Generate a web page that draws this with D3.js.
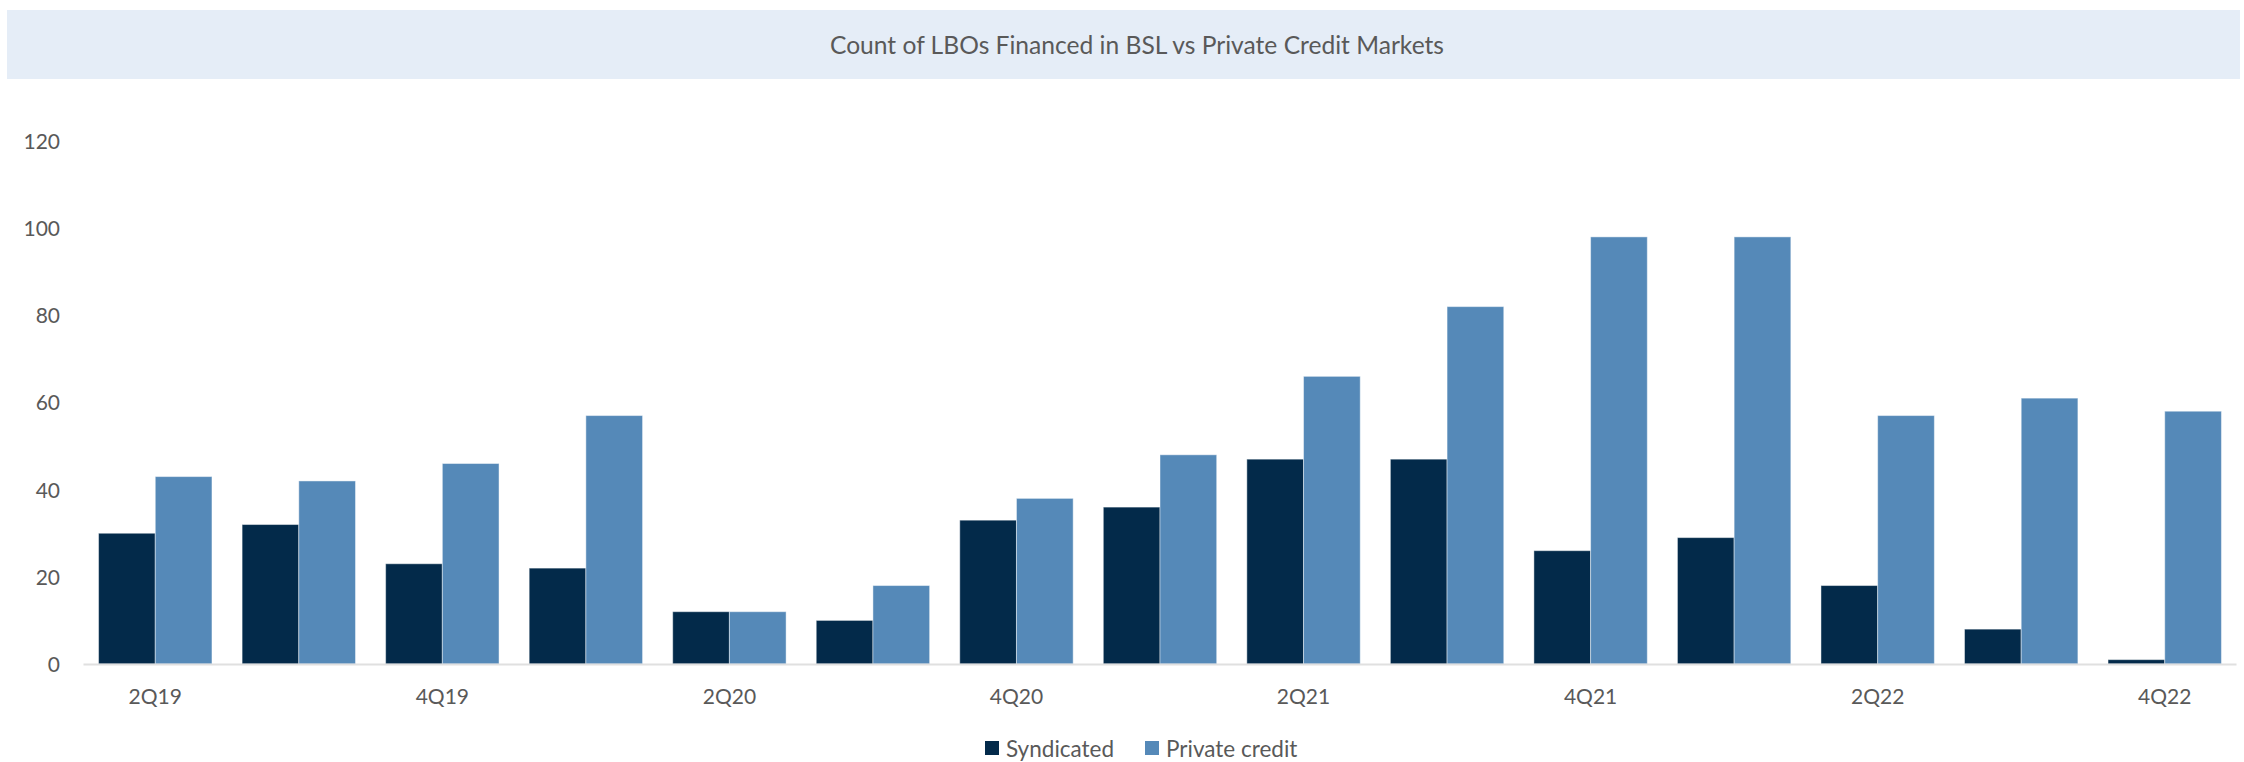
<!DOCTYPE html>
<html>
<head>
<meta charset="utf-8">
<script src="https://cdn.jsdelivr.net/npm/d3@7"></script>
<style>
  html, body { margin: 0; padding: 0; background: #ffffff; }
  svg { display: block; }
  text { font-family: "Lato", "Open Sans", sans-serif; fill: #595959; }
</style>
</head>
<body>
<svg id="chart" width="2244" height="762"></svg>
<script>
// Quarterly LBO counts by financing market
const quarters = ["2Q19","3Q19","4Q19","1Q20","2Q20","3Q20","4Q20","1Q21","2Q21","3Q21","4Q21","1Q22","2Q22","3Q22","4Q22"];
const syndicated = [30, 32, 23, 22, 12, 10, 33, 36, 47, 47, 26, 29, 18, 8, 1];
const privateCredit = [43, 42, 46, 57, 12, 18, 38, 48, 66, 82, 98, 98, 57, 61, 58];
const seriesNames = ["Syndicated", "Private credit"];
const seriesColors = ["#032a4a", "#5589b8"];
const yTicks = [0, 20, 40, 60, 80, 100, 120];
const xTickLabels = ["2Q19","4Q19","2Q20","4Q20","2Q21","4Q21","2Q22","4Q22"];
const title = "Count of LBOs Financed in BSL vs Private Credit Markets";

const svg = d3.select("#chart");
const plot = { left: 83.5, right: 2236.5, top: 141, bottom: 664 };

// Title banner
svg.append("rect")
  .attr("x", 7).attr("y", 10)
  .attr("width", 2233).attr("height", 69)
  .attr("fill", "#e5edf7");
svg.append("text")
  .attr("x", 1137).attr("y", 44)
  .attr("text-anchor", "middle")
  .attr("dominant-baseline", "central")
  .style("font-size", "24.6px")
  .text(title);

// Scales
const x0 = d3.scaleBand()
  .domain(quarters)
  .range([plot.left, plot.right])
  .paddingInner(0.21)
  .paddingOuter(0.105);
const x1 = d3.scaleBand()
  .domain(seriesNames)
  .range([0, x0.bandwidth()])
  .padding(0);
const y = d3.scaleLinear()
  .domain([0, 120])
  .range([plot.bottom, plot.top]);

// Y axis labels (no axis line or gridlines)
const yAxis = d3.axisLeft(y).tickValues(yTicks).tickSize(0).tickPadding(0);
const gy = svg.append("g")
  .attr("transform", `translate(60,0)`)
  .call(yAxis);
gy.select(".domain").remove();
gy.selectAll("text")
  .style("font-size", "21px")
  .style("font-family", "Lato, 'Open Sans', sans-serif")
  .attr("fill", "#595959")
  .attr("dy", "0.35em");

// Bars
const rows = quarters.map((q, i) => ({ q, values: [syndicated[i], privateCredit[i]] }));
const groups = svg.append("g").selectAll("g")
  .data(rows)
  .join("g")
  .attr("transform", d => `translate(${x0(d.q)},0)`);
groups.selectAll("rect")
  .data(d => d.values.map((v, k) => ({ key: seriesNames[k], v, k })))
  .join("rect")
  .attr("x", d => x1(d.key))
  .attr("y", d => y(d.v))
  .attr("width", x1.bandwidth())
  .attr("height", d => y(0) - y(d.v))
  .attr("fill", d => seriesColors[d.k])
  .attr("stroke", "rgba(255,255,255,0.45)")
  .attr("stroke-width", 1);

// Baseline
svg.append("line")
  .attr("x1", plot.left).attr("x2", plot.right)
  .attr("y1", y(0) + 0.5).attr("y2", y(0) + 0.5)
  .attr("stroke", "#e0e0e0")
  .attr("stroke-width", 2);

// X axis labels on every other quarter
const xAxis = d3.axisBottom(x0)
  .tickValues(xTickLabels)
  .tickSize(0)
  .tickPadding(0);
const gx = svg.append("g")
  .attr("transform", `translate(0,697)`)
  .call(xAxis);
gx.select(".domain").remove();
gx.selectAll("text")
  .style("font-size", "21px")
  .style("font-family", "Lato, 'Open Sans', sans-serif")
  .attr("fill", "#595959")
  .attr("y", 0)
  .attr("dy", "0.35em");

// Legend
const legendItems = [
  { name: seriesNames[0], color: seriesColors[0], x: 985 },
  { name: seriesNames[1], color: seriesColors[1], x: 1145 }
];
const lg = svg.append("g").selectAll("g")
  .data(legendItems)
  .join("g")
  .attr("transform", d => `translate(${d.x},741)`);
lg.append("rect")
  .attr("width", 14).attr("height", 14)
  .attr("fill", d => d.color);
lg.append("text")
  .attr("x", 21).attr("y", 7)
  .attr("dominant-baseline", "central")
  .style("font-size", "22.5px")
  .text(d => d.name);
</script>
</body>
</html>
